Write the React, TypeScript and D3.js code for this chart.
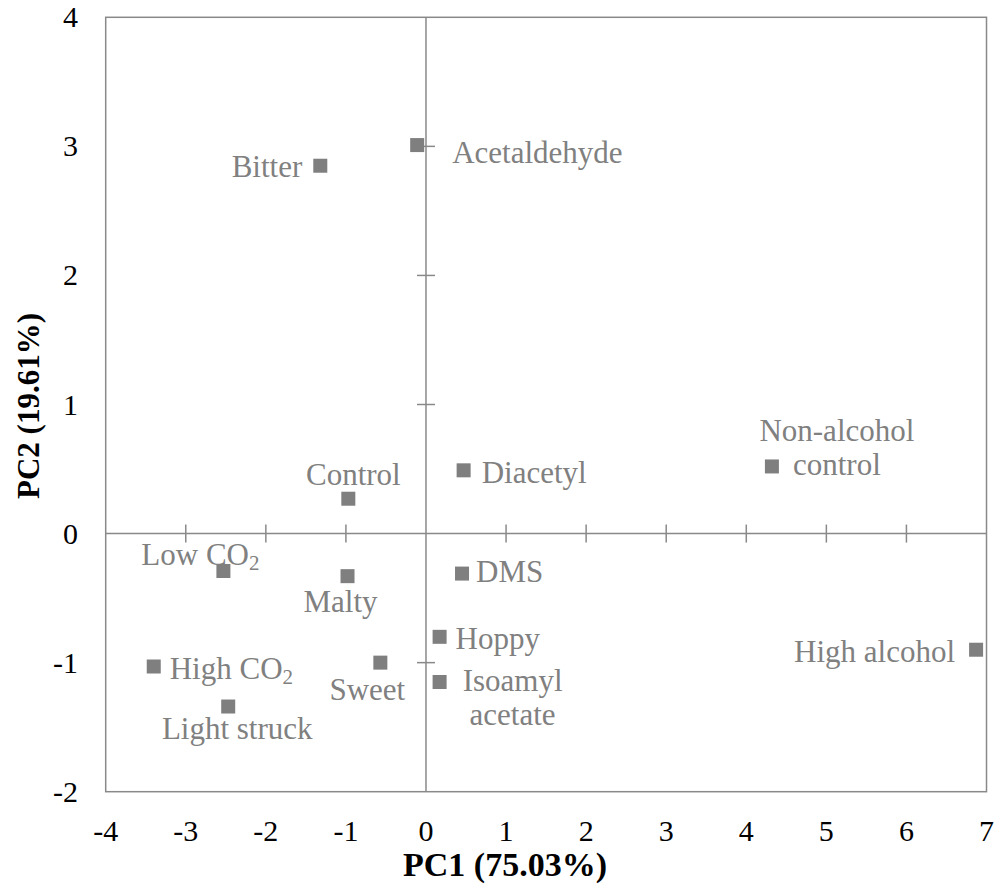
import React from "react";
import * as d3 from "d3";

const names = ["Acetaldehyde", "Bitter", "Control", "Diacetyl", "Non-alcohol control", "Low CO2", "Malty", "DMS", "Hoppy", "Isoamyl acetate", "High CO2", "Sweet", "Light struck", "High alcohol"];
const pc1 = [-0.11, -1.32, -0.97, 0.47, 4.32, -2.53, -0.98, 0.45, 0.17, 0.17, -3.40, -0.57, -2.47, 6.87];
const pc2 = [3.01, 2.85, 0.27, 0.49, 0.52, -0.29, -0.33, -0.31, -0.80, -1.15, -1.03, -1.00, -1.34, -0.90];
const xTicks = [-4, -3, -2, -1, 0, 1, 2, 3, 4, 5, 6, 7];
const yTicks = [-2, -1, 0, 1, 2, 3, 4];
const xTitle = "PC1 (75.03%)";
const yTitle = "PC2 (19.61%)";

// label placement (pixel offsets from marker), style only
const labelLayout: Record<string, { dx: number; dy: number; anchor: string; lines?: string[] }> = {
  "Acetaldehyde": { dx: 35, dy: 18, anchor: "start" },
  "Bitter": { dx: -18, dy: 11, anchor: "end" },
  "Control": { dx: 5, dy: -14, anchor: "middle" },
  "Diacetyl": { dx: 18, dy: 13, anchor: "start" },
  "Non-alcohol control": { dx: 65, dy: -25, anchor: "middle", lines: ["Non-alcohol", "control"] },
  "Low CO2": { dx: -23, dy: -6, anchor: "middle" },
  "Malty": { dx: -7, dy: 36, anchor: "middle" },
  "DMS": { dx: 14, dy: 8, anchor: "start" },
  "Hoppy": { dx: 16, dy: 12, anchor: "start" },
  "Isoamyl acetate": { dx: 73, dy: 9, anchor: "middle", lines: ["Isoamyl", "acetate"] },
  "High CO2": { dx: 16, dy: 12, anchor: "start" },
  "Sweet": { dx: -13, dy: 37, anchor: "middle" },
  "Light struck": { dx: 9, dy: 32, anchor: "middle" },
  "High alcohol": { dx: -21, dy: 12, anchor: "end" },
};

const W = 1006, H = 887;
const left = 105.7, right = 986.5, top = 17.3, bottom = 791.7;
const gray = "#898989";
const markGray = "#7f7f7f";
const font = "'Liberation Serif', 'Times New Roman', serif";

function renderLabel(text: string) {
  const m = text.match(/^(.*CO)2$/);
  if (m) {
    return (
      <>
        {m[1]}
        <tspan fontSize={21} dy={5}>2</tspan>
      </>
    );
  }
  return text;
}

export default function App() {
  const x = d3.scaleLinear().domain([-4, 7]).range([left, right]);
  const y = d3.scaleLinear().domain([-2, 4]).range([bottom, top]);
  const x0 = x(0), y0 = y(0);
  const ms = 14;
  return (
    <svg width={W} height={H} style={{ position: "absolute", left: 0, top: 0, background: "#fff" }} fontFamily={font}>
      <rect x={left} y={top} width={right - left} height={bottom - top} fill="none" stroke={gray} strokeWidth={1.5} />
      <line x1={left} x2={right} y1={y0} y2={y0} stroke={gray} strokeWidth={1.5} />
      <line x1={x0} x2={x0} y1={top} y2={bottom} stroke={gray} strokeWidth={1.5} />
      {xTicks.filter(t => t > -4 && t < 7 && t !== 0).map(t => (
        <line key={"xt" + t} x1={x(t)} x2={x(t)} y1={y0 - 9} y2={y0 + 9} stroke={gray} strokeWidth={1.5} />
      ))}
      {yTicks.filter(t => t > -2 && t < 4 && t !== 0).map(t => (
        <line key={"yt" + t} x1={x0 - 9} x2={x0 + 9} y1={y(t)} y2={y(t)} stroke={gray} strokeWidth={1.5} />
      ))}
      {xTicks.map(t => (
        <text key={"xl" + t} x={x(t)} y={841} textAnchor="middle" fontSize={30} fill="#000">{t < 0 ? "-" + Math.abs(t) : t}</text>
      ))}
      {yTicks.map(t => (
        <text key={"yl" + t} x={78} y={y(t) + 10} textAnchor="end" fontSize={30} fill="#000">{t < 0 ? "-" + Math.abs(t) : t}</text>
      ))}
      <text x={505} y={876} textAnchor="middle" fontSize={34} fontWeight="bold" fill="#000">{xTitle}</text>
      <text transform={`translate(39,406) rotate(-90)`} textAnchor="middle" fontSize={31} fontWeight="bold" fill="#000">{yTitle}</text>
      {names.map((n, i) => (
        <rect key={"m" + n} x={x(pc1[i]) - ms / 2} y={y(pc2[i]) - ms / 2} width={ms} height={ms} fill={markGray} />
      ))}
      {names.map((n, i) => {
        const L = labelLayout[n];
        const px = x(pc1[i]) + L.dx, py = y(pc2[i]) + L.dy;
        if (L.lines) {
          return (
            <text key={"l" + n} x={px} y={py} textAnchor={L.anchor as any} fontSize={31} fill="#808080">
              {L.lines.map((ln, j) => (
                <tspan key={j} x={px} dy={j === 0 ? 0 : 34}>{ln}</tspan>
              ))}
            </text>
          );
        }
        return (
          <text key={"l" + n} x={px} y={py} textAnchor={L.anchor as any} fontSize={31} fill="#808080">{renderLabel(n)}</text>
        );
      })}
    </svg>
  );
}
